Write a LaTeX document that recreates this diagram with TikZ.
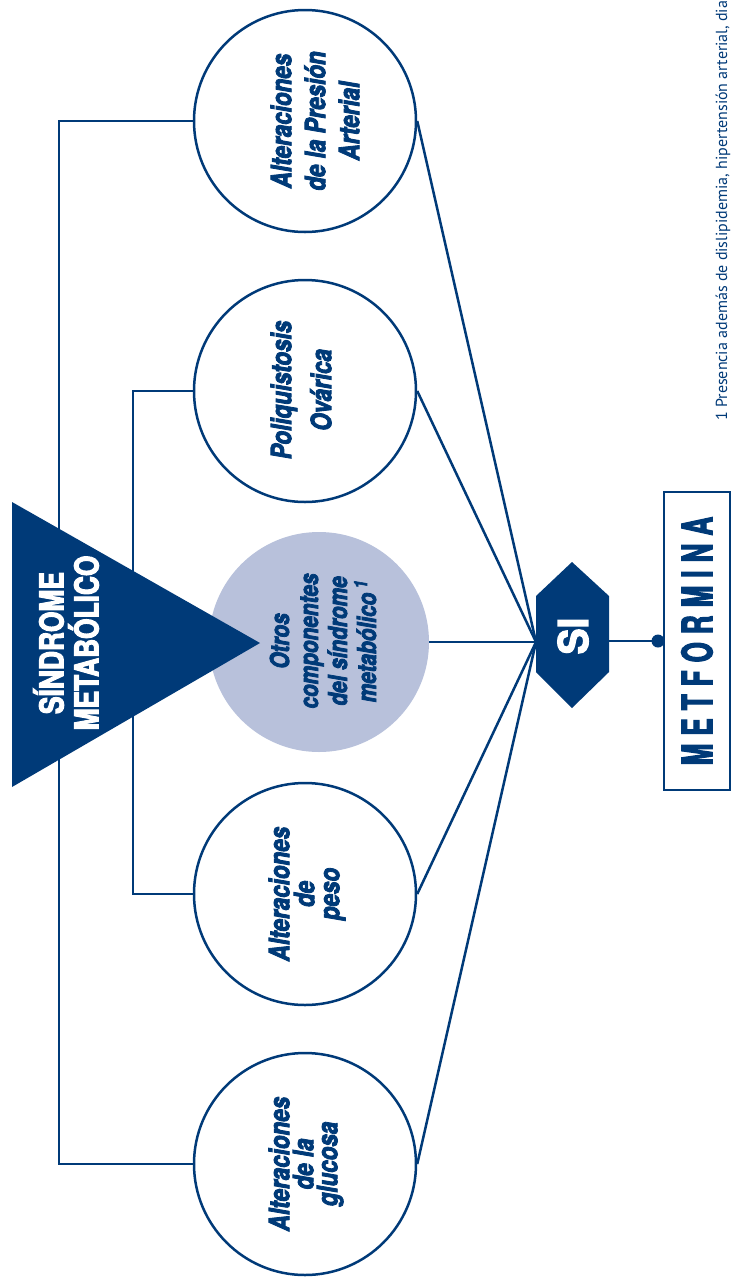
\documentclass[tikz,border=0pt]{standalone}
\usepackage{fontspec}
\setmainfont{TeX Gyre Heros}
% heavy condensed faces for the labels
\newfontfamily\heavyfont[FakeStretch=0.8,
  BoldFeatures={FakeBold=3}, BoldItalicFeatures={FakeBold=3}]{TeX Gyre Heros}
\newfontfamily\plainheavy[FakeStretch=0.95,
  BoldFeatures={FakeBold=3}]{TeX Gyre Heros}
\newfontfamily\narrowfont[FakeStretch=0.62,
  BoldFeatures={FakeBold=2.5}]{TeX Gyre Heros}
\newfontfamily\notefont{PT Sans}
\definecolor{navy}{HTML}{003A78}
\definecolor{haze}{HTML}{B8C1DB}

\begin{document}
\begin{tikzpicture}[x=1pt,y=-1pt,
  link/.style={draw=navy, line width=2.5pt},
  bubble/.style={circle, draw=navy, line width=2.5pt, fill=white,
    minimum size=222pt, inner sep=0pt},
  softbubble/.style={circle, fill=haze, minimum size=220pt, inner sep=0pt},
  bubbletext/.style={rotate=90, align=center, inner sep=0pt, text=navy,
    font=\heavyfont\bfseries\itshape\fontsize{28}{#1}\selectfont},
  bubbletext/.default=34,
]
\path[use as bounding box] (0,0) rectangle (731,1286);
\clip (0,0) rectangle (731,1286);
\fill[white] (0,0) rectangle (731,1286);

% bracket rails
\coordinate (bo) at (59,0);
\coordinate (bi) at (133,0);
\coordinate (cv) at (536,642);

% component circles
\node[bubble] (pa) at (305,121) {};
\node[bubble] (po) at (305,391) {};
\node[softbubble] (ot) at (319,642) {};
\node[bubble] (pe) at (305,894) {};
\node[bubble] (gl) at (305,1164) {};

\draw[link] (pa.west) -- (pa.west -| bo) -- (gl.west -| bo) -- (gl.west);
\draw[link] (po.west) -- (po.west -| bi) -- (pe.west -| bi) -- (pe.west);

% main triangle
\fill[navy] (12,502) -- (260,643) -- (12,787) -- cycle;
\node[rotate=90, align=center, inner sep=0pt, text=white,
  font=\heavyfont\bfseries\fontsize{33}{35}\selectfont] (sm) at (66,643)
  {SÍNDROME\\METABÓLICO};

% circle labels
\node[bubbletext] (pat) at (315,121) {Alteraciones\\de la Presión\\Arterial};
\node[bubbletext=40] (pot) at (301,390) {Poliquistosis\\Ovárica};
\node[rotate=90, align=center, inner sep=0pt, text=navy,
  font=\heavyfont\bfseries\itshape\fontsize{26}{29}\selectfont] (ott) at (323,641)
  {Otros\\componentes\\del síndrome\\metabólico\,\textsuperscript{1}};
\node[bubbletext=25] (pet) at (307,894) {Alteraciones\\de\\peso};
\node[bubbletext=24] (glt) at (306,1164) {Alteraciones\\de la\\glucosa};

% connectors to the decision
\draw[link] (pa.east) -- (cv);
\draw[link] (po.east) -- (cv);
\draw[link] (ot.east) -- (cv);
\draw[link] (pe.east) -- (cv);
\draw[link] (gl.east) -- (cv);

% decision hexagon
\fill[navy] (572,562) -- (609,596) -- (609,672) -- (572,708) -- (536,672) -- (536,596) -- cycle;
\node[rotate=90, inner sep=0pt, text=white,
  font=\plainheavy\bfseries\fontsize{41}{41}\selectfont] (si) at (573,636) {SI};
\coordinate (sr) at (609,641);

% outcome
\node[circle, fill=navy, minimum size=13pt, inner sep=0pt] (dt) at (658,641) {};
\draw[link] (sr) -- (dt.center);
\node[draw=navy, line width=2pt, minimum width=66pt, minimum height=298pt,
  inner sep=0pt] (met) at (697,641) {};
\node[rotate=90, inner sep=0pt, text=navy,
  font=\narrowfont\bfseries\fontsize{42}{42}\selectfont] (mett) at (697,641)
  {M\kern8pt E\kern8pt T\kern8pt F\kern8pt O\kern8pt R\kern8pt M\kern8pt I\kern8pt N\kern8pt A};

% footnote
\node[rotate=90, anchor=base west, inner sep=0pt, text=navy,
  font=\notefont\fontsize{16}{19}\selectfont] (fn) at (727,421)
  {1 Presencia además de dislipidemia, hipertensión arterial, dia};
\end{tikzpicture}
\end{document}
